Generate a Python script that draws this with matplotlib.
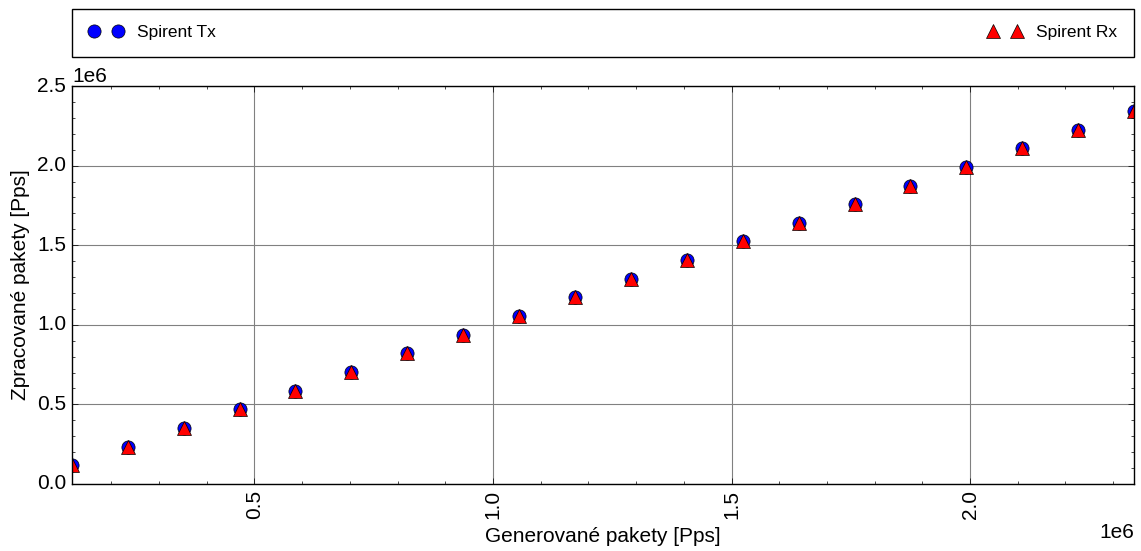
import matplotlib
matplotlib.use('Agg')
import matplotlib.pyplot as plt

# Generovane pakety (osa x) a namerene hodnoty ze Spirentu
generated = [117188, 234375, 351563, 468750, 585938, 703125, 820313, 937500,
             1054688, 1171875, 1289063, 1406250, 1523438, 1640625, 1757813,
             1875000, 1992188, 2109375, 2226563, 2343750]
spirent_tx = [117188, 234375, 351563, 468750, 585938, 703125, 820313, 937500,
              1054688, 1171875, 1289063, 1406250, 1523438, 1640625, 1757813,
              1875000, 1992188, 2109375, 2226563, 2343750]
spirent_rx = [117100, 234300, 351500, 468700, 585900, 703100, 820300, 937400,
              1054600, 1171800, 1289000, 1406200, 1523400, 1640600, 1757700,
              1874900, 1992100, 2109300, 2226500, 2343700]

plt.style.use('classic')
plt.rcParams['font.family'] = ['Liberation Sans', 'DejaVu Sans']
plt.rcParams['font.size'] = 15

fig = plt.figure(figsize=(11.41, 5.51), dpi=100)
fig.patch.set_facecolor('white')
ax = fig.add_axes([0.063, 0.1216, 0.9309, 0.7223])

ax.plot(generated, spirent_tx, 'o', color='blue', markeredgecolor='black',
        markersize=9.5, label='Spirent Tx')
ax.plot(generated, spirent_rx, '^', color='red', markeredgecolor='black',
        markersize=9.5, label='Spirent Rx')

ax.set_xlim(generated[0], generated[-1])
ax.set_ylim(0, 2.5e6)
ax.ticklabel_format(style='sci', axis='both', scilimits=(-3, 3))
ax.grid(True, color='gray', linestyle='-', linewidth=0.8)
ax.set_axisbelow(True)
ax.minorticks_on()
ax.tick_params(axis='both', labelsize=15)
for lbl in ax.get_xticklabels():
    lbl.set_rotation(90)
ax.xaxis.get_offset_text().set_fontsize(15)
ax.yaxis.get_offset_text().set_fontsize(15)

ax.set_xlabel('Generované pakety [Pps]', fontsize=15, labelpad=6)
ax.set_ylabel('Zpracované pakety [Pps]', fontsize=15)

ax.legend(bbox_to_anchor=(0., 1.073, 1., .123), loc=3, ncol=2, mode='expand',
          borderaxespad=0., numpoints=2, fontsize=12.5, borderpad=0.95,
          handlelength=2.0, frameon=True, fancybox=False)

fig.savefig('out.png', dpi=100, facecolor='white')
